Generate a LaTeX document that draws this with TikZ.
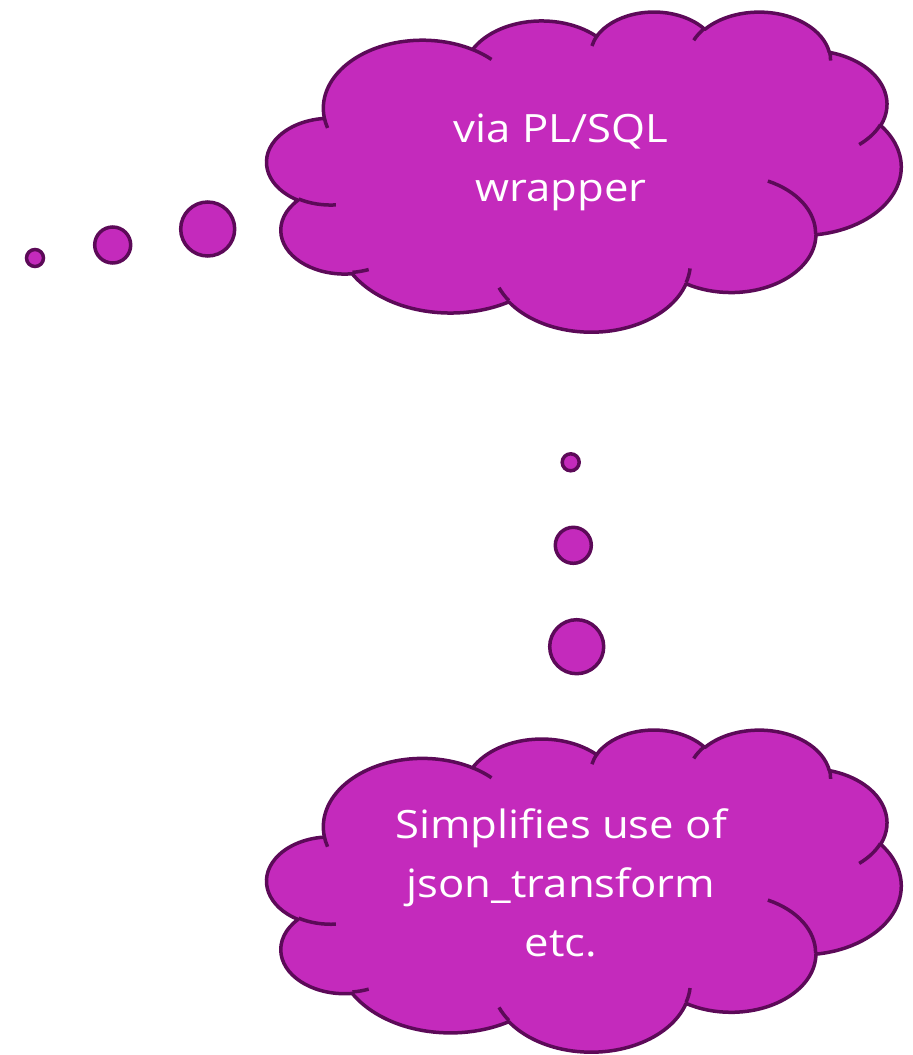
\documentclass[tikz,border=0pt]{standalone}
\usepackage{fontspec}
\setmainfont{Open Sans}[FakeStretch=1.12]
\definecolor{cloudfill}{RGB}{196,42,188}
\definecolor{cloudline}{RGB}{92,10,88}

% One arc of the cloud outline: radii #1,#2, start angle #3 and sweep #4 (visual angles,
% turned into the parametric angles that \pgfpatharcaxes expects)
\newcommand\cloudarc[4]{%
  \pgfmathsetmacro\arcS{atan2((#1)*sin(#3),(#2)*cos(#3))}%
  \pgfmathsetmacro\arcE{atan2((#1)*sin((#3)+(#4)),(#2)*cos((#3)+(#4)))}%
  \pgfmathsetmacro\arcE{\arcS+Mod(\arcE-\arcS,360)}%
  \pgfpatharcaxes{\arcS}{\arcE}{\pgfpointxy{#1}{0}}{\pgfpointxy{0}{#2}}}

% Cloud outline in a 4320 x 4320 box
\newcommand\cloudpath{%
  \pgfpathmoveto{\pgfpointxy{390}{1437}}%
  \cloudarc{675.3}{919.0}{-190.4875}{123.7805}%
  \cloudarc{533.3}{726.7}{-144.1024}{89.9452}%
  \cloudarc{436.5}{594.5}{-145.8079}{99.7230}%
  \cloudarc{485.7}{659.5}{-130.9861}{117.2417}%
  \cloudarc{533.3}{727.3}{-78.7089}{109.0269}%
  \cloudarc{677.5}{922.0}{-46.2673}{130.2690}%
  \cloudarc{578.5}{786.7}{0.6250}{114.0333}%
  \cloudarc{675.2}{921.5}{22.4516}{115.1726}%
  \cloudarc{772.0}{1054.3}{66.2426}{75.7110}%
  \cloudarc{436.0}{591.8}{-274.9421}{146.7356}%
  \cloudarc{434.5}{594.5}{-246.8285}{152.5189}%
  \pgfpathclose}

% Inner fold lines of the cloud
\newcommand\cloudcreases{%
  \pgfpathmoveto{\pgfpointxy{469.3}{2617.7}}\cloudarc{434.5}{594.5}{86.7420}{26.4295}%
  \pgfpathmoveto{\pgfpointxy{692.8}{3489.9}}\cloudarc{436.0}{591.8}{73.6105}{11.4475}%
  \pgfpathmoveto{\pgfpointxy{1647.8}{3909.0}}\cloudarc{675.2}{921.5}{137.6242}{14.0811}%
  \pgfpathmoveto{\pgfpointxy{2882.7}{3475.1}}\cloudarc{675.2}{921.5}{6.4533}{15.9984}%
  \pgfpathmoveto{\pgfpointxy{3412.9}{2295.4}}\cloudarc{578.5}{786.7}{-70.2924}{70.9174}%
  \pgfpathmoveto{\pgfpointxy{4179.8}{1535.4}}\cloudarc{533.3}{727.3}{30.3180}{27.7515}%
  \pgfpathmoveto{\pgfpointxy{3832.4}{542.6}}\cloudarc{485.7}{659.5}{-13.7443}{14.8589}%
  \pgfpathmoveto{\pgfpointxy{2907.8}{395.2}}\cloudarc{485.7}{659.5}{-149.1815}{18.1954}%
  \pgfpathmoveto{\pgfpointxy{2214.1}{472.0}}\cloudarc{436.5}{594.5}{-163.4943}{17.6864}%
  \pgfpathmoveto{\pgfpointxy{1400.0}{519.2}}\cloudarc{675.3}{919.0}{-66.7070}{12.3194}%
  \pgfpathmoveto{\pgfpointxy{412.7}{1578.9}}\cloudarc{675.3}{919.0}{157.6544}{11.8582}%
}

\newcommand\drawcloud{%
  \pgfsetlinewidth{3.5pt}\pgfsetroundjoin
  \pgfsetstrokecolor{cloudline}\pgfsetfillcolor{cloudfill}%
  \cloudpath\pgfusepath{fill,stroke}%
  \cloudcreases\pgfusepath{stroke}}

\tikzset{
  bubble/.style={circle, inner sep=0pt, line width=3.5pt, draw=cloudline, fill=cloudfill},
  cloudtext/.style={align=center, text=white, inner sep=0pt,
    font=\fontsize{39}{59}\selectfont}
}

\begin{document}
\begin{tikzpicture}[x=1pt, y=-1pt]
  \useasboundingbox (0,0) rectangle (913,1055);

  % upper cloud and its trail of bubbles
  \begin{scope}[shift={(267,11)}, x=0.146759pt, y=-0.074074pt]
    \drawcloud
  \end{scope}
  \node[bubble, minimum size=17pt] (b1) at (35,258) {};
  \node[bubble, minimum size=36pt] (b2) at (112.7,245) {};
  \node[bubble, minimum size=54pt] (b3) at (207.7,229) {};
  \node[cloudtext, anchor=base] (upper) at (561,201.7) {via PL/SQL\\wrapper};

  % lower cloud and its trail of bubbles
  \begin{scope}[shift={(267,729)}, x=0.146759pt, y=-0.074537pt]
    \drawcloud
  \end{scope}
  \node[bubble, minimum size=17pt] (c1) at (570.7,462.3) {};
  \node[bubble, minimum size=36pt] (c2) at (573.3,545.3) {};
  \node[bubble, minimum size=54pt] (c3) at (576.7,646.7) {};
  \node[cloudtext, anchor=base] (lower) at (561,956.7) {Simplifies use of\\json\_transform\\etc.};
\end{tikzpicture}
\end{document}
